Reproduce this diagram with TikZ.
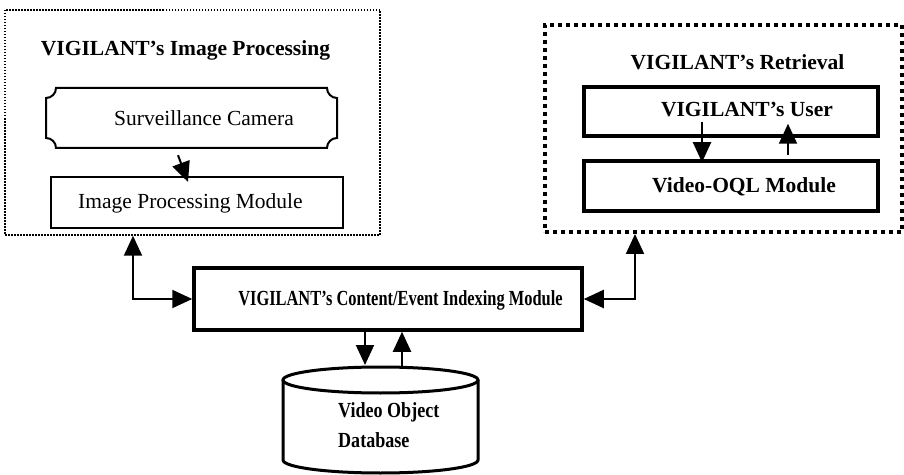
\documentclass[tikz,border=0pt]{standalone}
\usepackage{fontspec}
\usepackage{graphicx}
\setmainfont{Liberation Serif}
\usetikzlibrary{arrows.meta}
\tikzset{
  txt/.style={inner sep=0pt, font=\fontsize{21.5}{30}\selectfont},
  btxt/.style={txt, font=\fontsize{21.5}{30}\selectfont\bfseries},
  thinbox/.style={draw, line width=2pt, inner sep=0pt},
  thickbox/.style={draw, line width=3.5pt, inner sep=0pt},
  conn/.style={line width=2pt, -{Triangle[length=20pt,width=18pt]}},
  dconn/.style={line width=2pt, {Triangle[length=20pt,width=18pt]}-{Triangle[length=20pt,width=18pt]}},
}
\begin{document}
\begin{tikzpicture}[x=1pt,y=1pt]
\useasboundingbox (0,0) rectangle (904,474);
% left dotted frame
\node[draw, line width=1.5pt, dash pattern=on 1.5pt off 1.5pt, inner sep=0pt,
      minimum width=375pt, minimum height=225pt] (leftbox) at (192.5,351.5) {};
\node[btxt] (title1) at (185.5,424) {VIGILANT's Image Processing};
% surveillance camera plaque
\draw[line width=2pt] (56,386) -- (327,386)
  arc[start angle=180,end angle=270,radius=10] -- (337,336)
  arc[start angle=90,end angle=180,radius=10] -- (56,326)
  arc[start angle=0,end angle=90,radius=10] -- (46,376)
  arc[start angle=270,end angle=360,radius=10] -- cycle;
\node[inner sep=0pt, minimum width=291pt, minimum height=60pt] (camera) at (191.5,356) {};
\node[txt] (camtext) at (204,356) {Surveillance Camera};
% image processing module
\node[thinbox, minimum width=292pt, minimum height=51pt] (ipm) at (197,271.5) {};
\node[txt] (ipmtext) at (190.5,271) {Image Processing Module};
\draw[conn] ([shift={(-13.5,-7)}]camera.south) -- ([shift={(-9,-6)}]ipm.north);
% right dashed frame
\node[draw, line width=4pt, dash pattern=on 4pt off 4pt, inner sep=0pt,
      minimum width=357pt, minimum height=207pt] (rightbox) at (723.5,345.5) {};
\node[btxt] (title2) at (737.5,412) {VIGILANT's Retrieval};
\node[thickbox, minimum width=294pt, minimum height=49pt] (user) at (731,362.5) {};
\node[btxt] (usertext) at (747,364) {VIGILANT's User};
\node[thickbox, minimum width=294pt, minimum height=50pt] (oql) at (731,288) {};
\node[btxt] (oqltext) at (744,287) {Video-OQL Module};
\draw[conn] ([shift={(-29,16)}]user.south) -- ([shift={(-29,-3)}]oql.north);
\draw[conn] ([shift={(57,4)}]oql.north) -- ([shift={(57,14)}]user.south);
% indexing module
\node[thickbox, minimum width=388pt, minimum height=62pt] (idx) at (388,175) {};
\node[btxt] (idxtext) at (400.5,174) {\scalebox{0.763}[1]{VIGILANT's Content/Event Indexing Module}};
\draw[dconn] (idx.west) -| ([xshift=-59.5]leftbox.south);
\draw[dconn] (idx.east) -| ([xshift=-88.5]rightbox.south);
% database cylinder
\draw[line width=3pt] (283,94) -- (283,14)
  arc[start angle=180,end angle=360,x radius=97.5,y radius=13] -- (478,94);
\draw[line width=3pt] (380.5,94) ellipse[x radius=97.5,y radius=13];
\coordinate (dbtop) at (380.5,107);
\node[btxt, align=left, anchor=west] (dbtext) at (338,49)
  {\scalebox{0.84}[1]{Video Object}\\\scalebox{0.84}[1]{Database}};
\draw[conn] ([xshift=-23]idx.south) -- ([shift={(-15.5,2)}]dbtop);
\draw[conn] ([xshift=21.5]dbtop) -- ([xshift=14]idx.south);
\end{tikzpicture}
\end{document}
